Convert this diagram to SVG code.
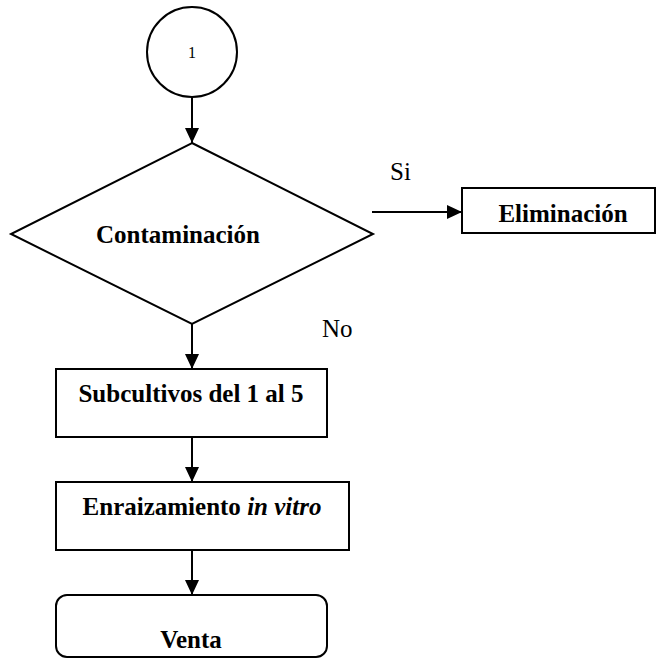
<svg xmlns="http://www.w3.org/2000/svg" width="656" height="660" viewBox="0 0 656 660">
<style>
.s{fill:#fff;stroke:#000;stroke-width:2}
text{font-family:'Liberation Serif','Times New Roman',Times,serif;fill:#000}
.b{font-weight:bold;font-size:25px}
.r{font-size:25px}
.c{stroke:#000;stroke-width:2;fill:none;marker-end:url(#ah)}
</style>
<defs>
<marker id="ah" markerWidth="15" markerHeight="14" refX="15" refY="7" orient="auto" markerUnits="userSpaceOnUse" viewBox="0 0 15 14">
<path d="M0,0 L15,7 L0,14 z" fill="#000"/>
</marker>
</defs>
<rect width="656" height="660" fill="#fff"/>
<g id="connectors">
<line class="c" x1="192" y1="97" x2="192" y2="143"/>
<line class="c" x1="372" y1="212" x2="462" y2="212"/>
<line class="c" x1="192" y1="324" x2="192" y2="369"/>
<line class="c" x1="192" y1="437" x2="192" y2="482"/>
<line class="c" x1="192" y1="550" x2="192" y2="595"/>
<text class="r" x="390" y="180">Si</text>
<text class="r" x="322" y="337">No</text>
</g>
<g id="n1">
<circle class="s" cx="192" cy="52" r="45"/>
<text x="192" y="58" text-anchor="middle" font-size="16">1</text>
</g>
<g id="contaminacion">
<polygon class="s" points="192,143 373,234 192,324 11,234"/>
<text class="b" x="178" y="243" text-anchor="middle">Contaminación</text>
</g>
<g id="eliminacion">
<rect class="s" x="462" y="188" width="193" height="45"/>
<text class="b" x="563" y="222" text-anchor="middle">Eliminación</text>
</g>
<g id="subcultivos">
<rect class="s" x="56" y="369" width="271" height="68"/>
<text class="b" x="191" y="402" text-anchor="middle">Subcultivos del 1 al 5</text>
</g>
<g id="enraizamiento">
<rect class="s" x="56" y="482" width="293" height="68"/>
<text class="b" x="202" y="515" text-anchor="middle">Enraizamiento <tspan font-style="italic">in vitro</tspan></text>
</g>
<g id="venta">
<rect class="s" x="56" y="595" width="271" height="62" rx="11" ry="11"/>
<text class="b" x="191" y="648" text-anchor="middle">Venta</text>
</g>
</svg>
